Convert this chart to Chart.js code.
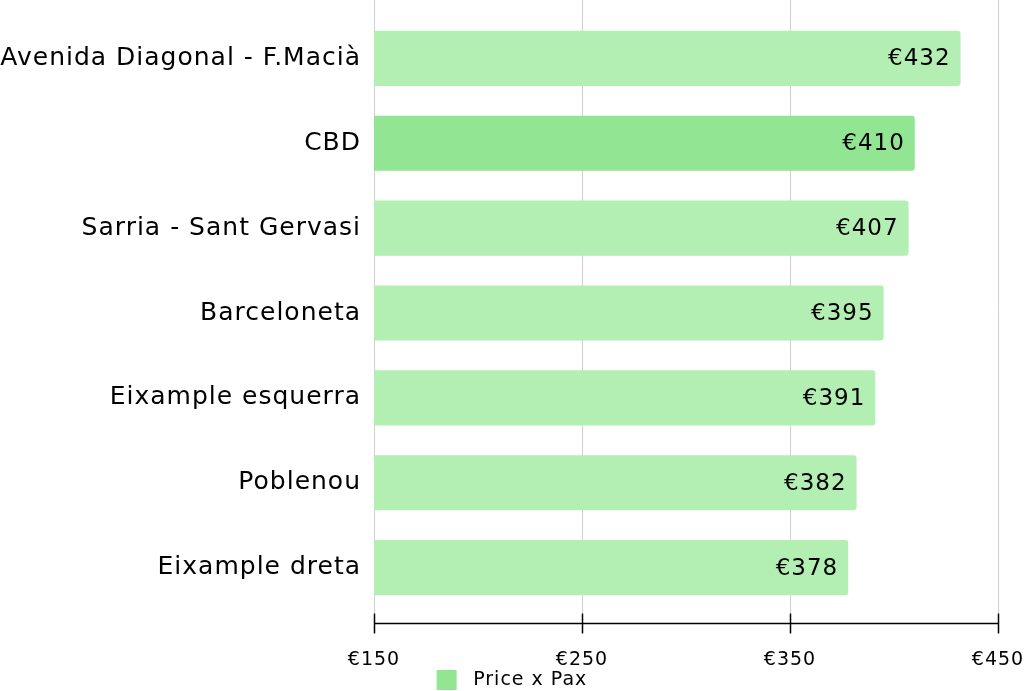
<!DOCTYPE html>
<html lang="en">
<head>
    <meta charset="UTF-8">
    <title>Price x Pax</title>
    <script src="https://cdn.jsdelivr.net/npm/chart.js"></script>
    <style>
        html, body { margin: 0; padding: 0; background: #fff; }
        #wrap { width: 1024px; height: 691px; }
    </style>
</head>
<body>
    <div id="wrap"><canvas id="priceChart" width="1024" height="691"></canvas></div>

    <script>
        // data
        const zones = ['Avenida Diagonal - F.Macià', 'CBD', 'Sarria - Sant Gervasi', 'Barceloneta', 'Eixample esquerra', 'Poblenou', 'Eixample dreta'];
        const prices = [432, 410, 407, 395, 391, 382, 378];
        const highlighted = ['CBD'];
        const xTicks = [150, 250, 350, 450];

        const lightGreen = '#b3eeb3';
        const mainGreen = '#92e592';
        const fontFamily = 'DejaVu Sans';

        // the reference font runs a bit wider than DejaVu, so space the letters out
        const spacing = {
            id: 'spacing',
            beforeUpdate(chart) { chart.ctx.letterSpacing = '1px'; },
            beforeDraw(chart) { chart.ctx.letterSpacing = '1px'; }
        };

        // gridlines drawn from the top of the canvas, plus the crossing tick marks
        const axisLines = {
            id: 'axisLines',
            beforeDatasetsDraw(chart) {
                const { ctx, chartArea, scales } = chart;
                ctx.save();
                ctx.lineWidth = 1;
                ctx.strokeStyle = '#cfcfcf';
                xTicks.forEach(v => {
                    const x = Math.round(scales.x.getPixelForValue(v)) + 0.5;
                    ctx.beginPath();
                    ctx.moveTo(x, 0);
                    ctx.lineTo(x, chartArea.bottom + 3);
                    ctx.stroke();
                });
                ctx.restore();
            },
            afterDraw(chart) {
                const { ctx, chartArea, scales } = chart;
                const yAxis = chartArea.bottom + 13.5;
                ctx.save();
                ctx.strokeStyle = '#000';
                ctx.lineWidth = 1.5;
                ctx.beginPath();
                ctx.moveTo(scales.x.getPixelForValue(xTicks[0]), yAxis);
                ctx.lineTo(scales.x.getPixelForValue(xTicks[xTicks.length - 1]), yAxis);
                ctx.stroke();
                xTicks.forEach(v => {
                    const x = Math.round(scales.x.getPixelForValue(v)) + 0.5;
                    ctx.beginPath();
                    ctx.moveTo(x, yAxis - 10);
                    ctx.lineTo(x, yAxis + 10);
                    ctx.stroke();
                });
                ctx.restore();
            }
        };

        // value labels inside the bar ends
        const valueLabels = {
            id: 'valueLabels',
            afterDatasetsDraw(chart) {
                const { ctx } = chart;
                const meta = chart.getDatasetMeta(0);
                ctx.save();
                ctx.font = '23px "DejaVu Sans"';
                ctx.letterSpacing = '1px';
                ctx.fillStyle = '#000';
                ctx.textAlign = 'right';
                ctx.textBaseline = 'middle';
                meta.data.forEach((bar, i) => {
                    ctx.fillText('€' + prices[i], bar.x - 10, bar.y + 1);
                });
                ctx.restore();
            }
        };

        const ctx = document.getElementById('priceChart').getContext('2d');
        new Chart(ctx, {
            type: 'bar',
            data: {
                labels: zones,
                datasets: [{
                    label: 'Price x Pax',
                    data: prices,
                    backgroundColor: zones.map(z => highlighted.includes(z) ? mainGreen : lightGreen),
                    borderRadius: 3,
                    borderSkipped: 'start',
                    barPercentage: 0.65,
                    categoryPercentage: 1
                }]
            },
            options: {
                indexAxis: 'y',
                responsive: false,
                animation: false,
                layout: { padding: { top: 16, bottom: -9, right: 0, left: 0 } },
                scales: {
                    x: {
                        min: 150,
                        max: 450,
                        afterBuildTicks: axis => { axis.ticks = xTicks.map(v => ({ value: v })); },
                        afterFit: axis => {
                            axis.height = 60;
                            axis.paddingLeft = 0;
                            axis.paddingRight = 26;
                        },
                        grid: { drawOnChartArea: false, drawTicks: false },
                        border: { display: false },
                        ticks: {
                            padding: 39,
                            maxRotation: 0,
                            color: '#000',
                            font: { family: fontFamily, size: 19 },
                            callback: v => '€' + v
                        }
                    },
                    y: {
                        afterFit: axis => {
                            axis.width = 374;
                            axis.paddingTop = 0;
                            axis.paddingBottom = 0;
                        },
                        grid: { display: false, drawTicks: false },
                        border: { display: false },
                        ticks: {
                            padding: 13,
                            color: '#000',
                            font: { family: fontFamily, size: 25 }
                        }
                    }
                },
                plugins: {
                    legend: {
                        position: 'bottom',
                        labels: {
                            color: '#333',
                            boxWidth: 20,
                            boxHeight: 20,
                            padding: 0,
                            font: { family: fontFamily, size: 19 },
                            generateLabels: () => [{
                                text: ' Price x Pax',
                                fillStyle: mainGreen,
                                strokeStyle: mainGreen,
                                lineWidth: 0
                            }]
                        }
                    },
                    tooltip: { enabled: false }
                }
            },
            plugins: [spacing, axisLines, valueLabels]
        });
    </script>
</body>
</html>
